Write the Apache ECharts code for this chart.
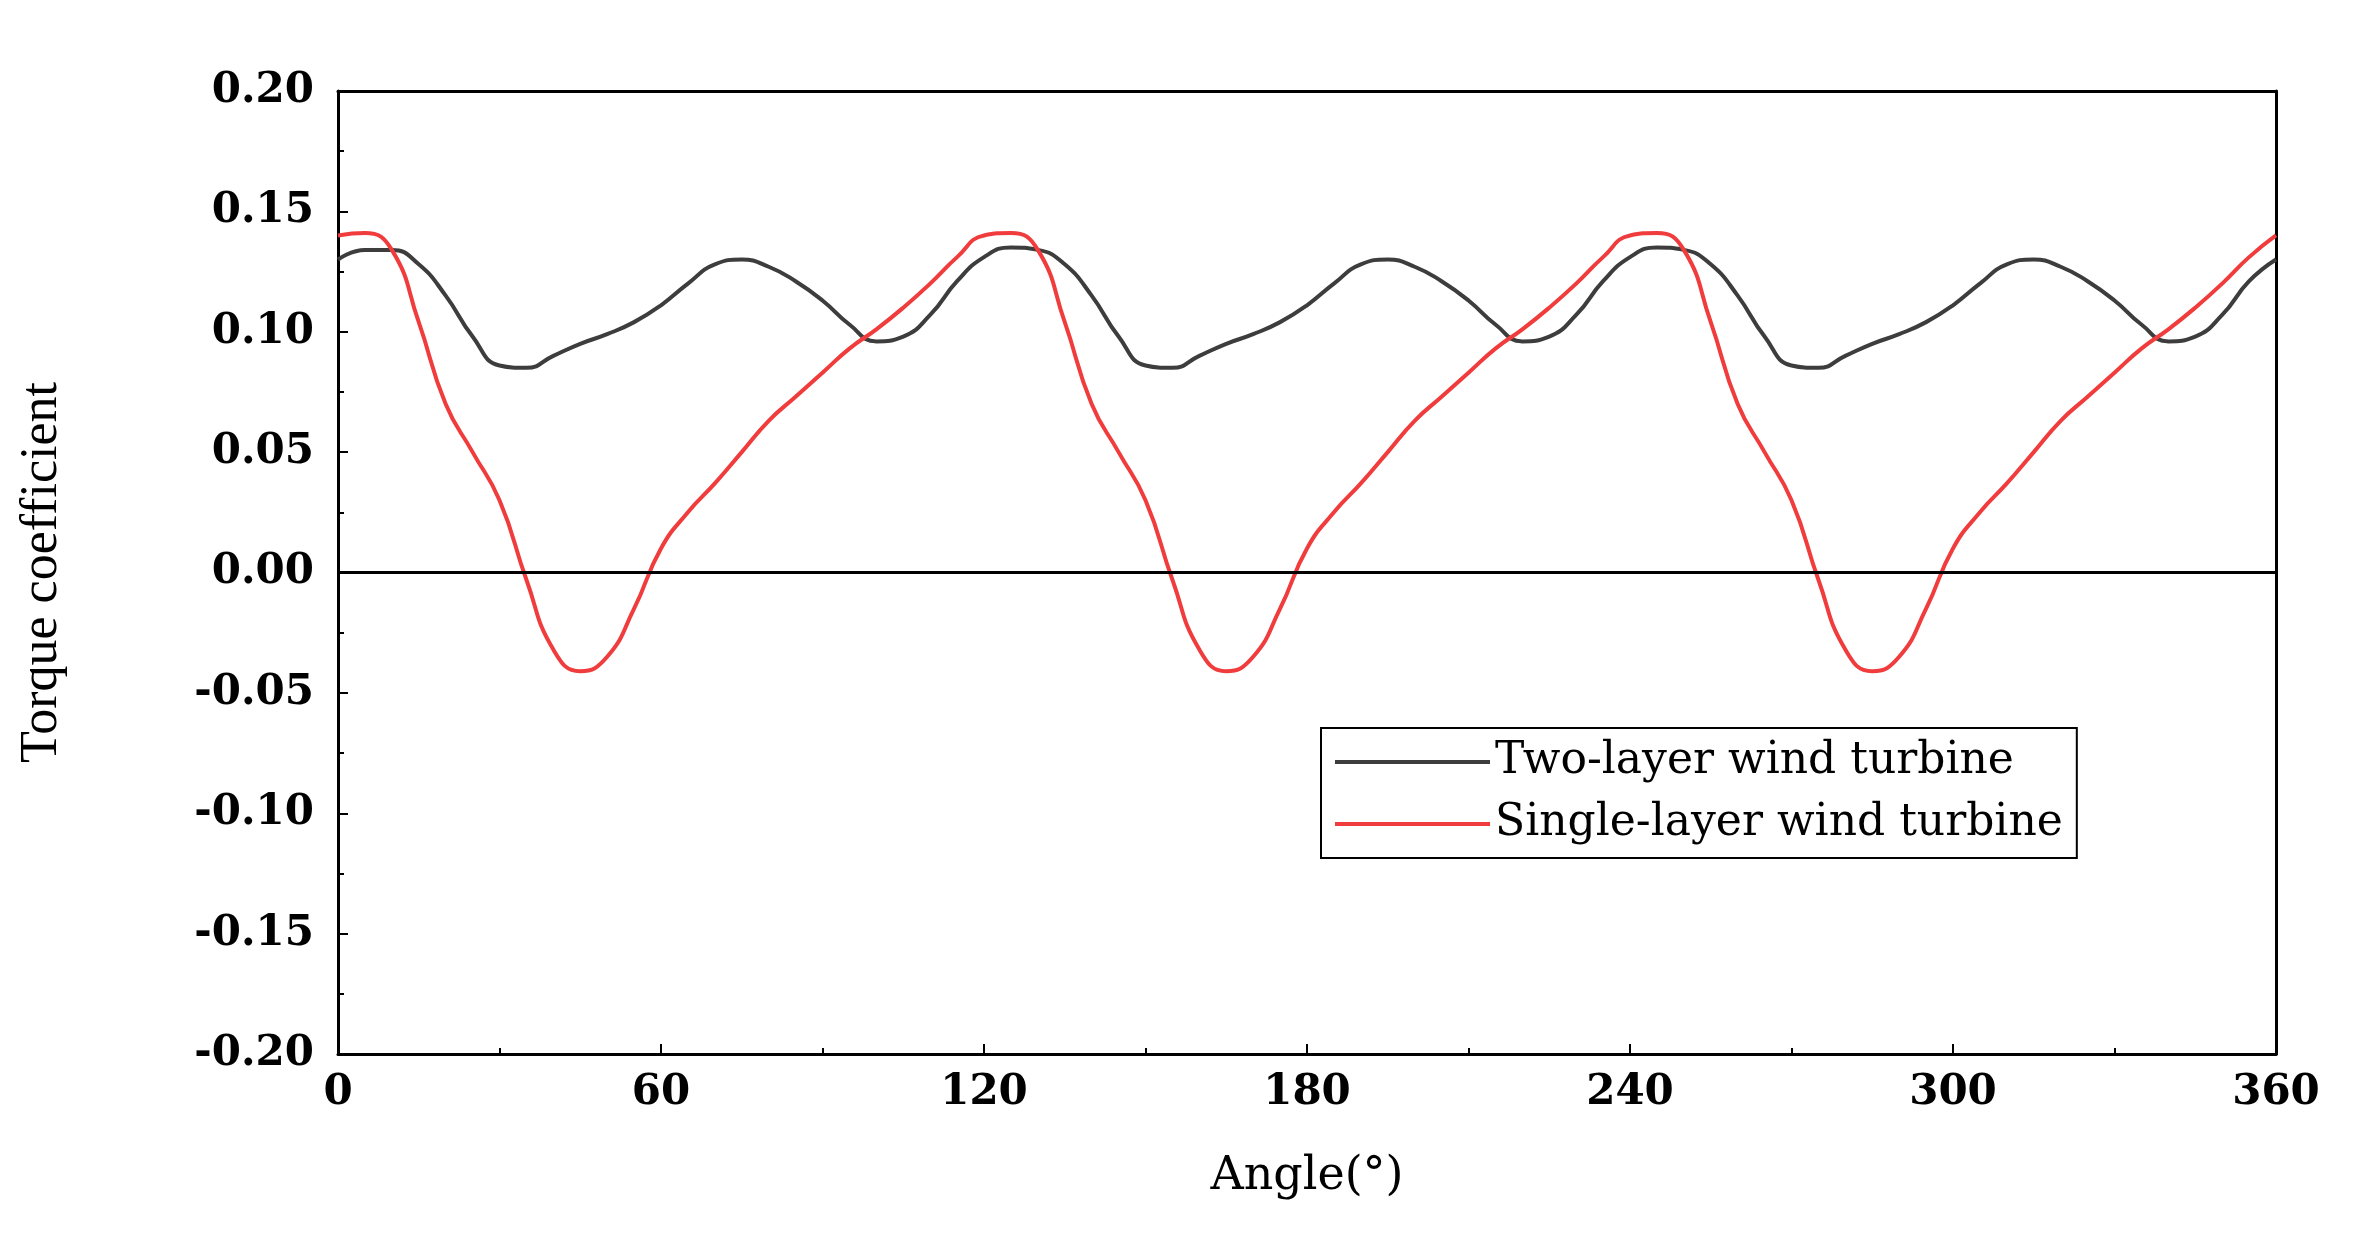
<!doctype html>
<html>
<head>
<meta charset="utf-8">
<title>Torque coefficient</title>
<script src="https://cdn.jsdelivr.net/npm/echarts@6/dist/echarts.min.js"></script>
<style>html,body{margin:0;background:#fff}#main{width:2375px;height:1254px}</style>
</head>
<body>
<div id="main"></div>
<script>
// angle every 5 degrees, 0..360
var angles = [];
for (var a = 0; a <= 360; a += 5) angles.push(a);

var twoLayer = [
  0.130,0.134,0.134,0.128,0.115,0.098,0.086,0.085,0.090,0.095,0.099,0.104,
  0.111,0.120,0.128,0.130,0.127,0.121,0.113,0.103,0.096,0.098,0.107,0.121,
  0.131,0.135,0.134,0.128,0.115,0.098,0.086,0.085,0.090,0.095,0.099,0.104,
  0.111,0.120,0.128,0.130,0.127,0.121,0.113,0.103,0.096,0.098,0.107,0.121,
  0.131,0.135,0.134,0.128,0.115,0.098,0.086,0.085,0.090,0.095,0.099,0.104,
  0.111,0.120,0.128,0.130,0.127,0.121,0.113,0.103,0.096,0.098,0.107,0.121,
  0.130
];
var singleLayer = [
  0.140,0.141,0.134,0.104,0.070,0.050,0.030,-0.003,-0.032,-0.041,-0.035,-0.015,
  0.010,0.025,0.037,0.050,0.063,0.073,0.083,0.093,0.101,0.110,0.120,0.131,
  0.140,0.141,0.134,0.104,0.070,0.050,0.030,-0.003,-0.032,-0.041,-0.035,-0.015,
  0.010,0.025,0.037,0.050,0.063,0.073,0.083,0.093,0.101,0.110,0.120,0.131,
  0.140,0.141,0.134,0.104,0.070,0.050,0.030,-0.003,-0.032,-0.041,-0.035,-0.015,
  0.010,0.025,0.037,0.050,0.063,0.073,0.083,0.093,0.101,0.110,0.120,0.131,
  0.140
];

function pairs(v){ return angles.map(function(x,i){ return [x, v[i]]; }); }

var font = 'DejaVu Serif';
var myChart = echarts.init(document.getElementById('main'));
var axisLine = {onZero:false, lineStyle:{color:'#000',width:3}};
option = {
  animation:false,
  grid:{left:338,right:99,top:91,bottom:200},
  legend:{
    orient:'vertical', left:1321, top:728,
    borderColor:'#000', borderWidth:2, padding:[12,14,12,14],
    itemWidth:155, itemHeight:4, itemGap:18,
    icon:'rect',
    textStyle:{fontFamily:font,fontSize:44,color:'#000'},
    data:['Two-layer wind turbine','Single-layer wind turbine']
  },
  xAxis:[{
    type:'value', min:0, max:360, interval:60,
    axisLine:axisLine,
    axisTick:{inside:true,length:10,lineStyle:{width:2,color:'#000'}},
    minorTick:{show:true,splitNumber:2,length:6,lineStyle:{width:2,color:'#000'}},
    axisLabel:{fontFamily:font,fontSize:42,fontWeight:'bold',color:'#000',margin:18},
    splitLine:{show:false},
    name:'Angle(°)', nameLocation:'middle', nameGap:100,
    nameTextStyle:{fontFamily:font,fontSize:46,color:'#000'}
  },{
    type:'value', position:'top', min:0, max:360,
    axisLine:axisLine, axisTick:{show:false}, axisLabel:{show:false}, splitLine:{show:false}
  }],
  yAxis:[{
    type:'value', min:-0.2, max:0.2, interval:0.05,
    axisLine:axisLine,
    axisTick:{inside:true,length:10,lineStyle:{width:2,color:'#000'}},
    minorTick:{show:true,splitNumber:2,length:6,lineStyle:{width:2,color:'#000'}},
    axisLabel:{fontFamily:font,fontSize:42,fontWeight:'bold',color:'#000',margin:24,
      formatter:function(v){return v.toFixed(2);}},
    splitLine:{show:false},
    name:'Torque coefficient', nameLocation:'middle', nameGap:270,
    nameTextStyle:{fontFamily:'Liberation Serif',fontSize:52,color:'#000'}
  },{
    type:'value', position:'right', min:-0.2, max:0.2,
    axisLine:axisLine, axisTick:{show:false}, axisLabel:{show:false}, splitLine:{show:false}
  }],
  series:[{
    name:'Two-layer wind turbine', type:'line', smooth:true, symbol:'none',
    data:pairs(twoLayer), color:'#3d3d3d', lineStyle:{width:4}
  },{
    name:'Single-layer wind turbine', type:'line', smooth:true, symbol:'none',
    data:pairs(singleLayer), color:'#f03c3c', lineStyle:{width:4},
    markLine:{silent:true,symbol:'none',label:{show:false},
      lineStyle:{color:'#000',type:'solid',width:3},data:[{yAxis:0}]}
  }]
};
myChart.setOption(option);
</script>
</body>
</html>
